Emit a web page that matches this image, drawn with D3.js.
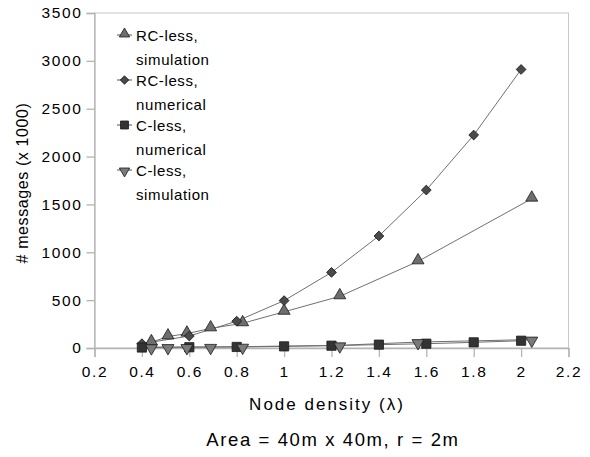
<!DOCTYPE html>
<html>
<head>
<meta charset="utf-8">
<script src="https://cdn.jsdelivr.net/npm/d3@7"></script>
<style>
  body { margin: 0; background: #fff; }
  svg text { font-family: "Liberation Sans", Arial, sans-serif; fill: #000; }
</style>
</head>
<body>
<div id="chart"></div>
<script>
/* ===== Data ===== */
const xTicks = [0.2, 0.4, 0.6, 0.8, 1, 1.2, 1.4, 1.6, 1.8, 2, 2.2];
const yTicks = [0, 500, 1000, 1500, 2000, 2500, 3000, 3500];

const rcSimX = [0.44, 0.51, 0.59, 0.69, 0.825, 1.0, 1.235, 1.565, 2.045];
const rcSimY = [60, 120, 150, 205, 258, 378, 540, 905, 1560];

const rcNumX = [0.4, 0.6, 0.8, 1.0, 1.2, 1.4, 1.6, 1.8, 2.0];
const rcNumY = [45, 125, 280, 495, 790, 1170, 1650, 2225, 2910];

const cNumX = [0.4, 0.6, 0.8, 1.0, 1.2, 1.4, 1.6, 1.8, 2.0];
const cNumY = [5, 8, 11, 17, 24, 35, 45, 59, 76];

const cSimX = [0.44, 0.51, 0.59, 0.69, 0.825, 1.235, 1.565, 2.045];
const cSimY = [8, 10, 10, 12, 14, 28, 62, 88];

const seriesNames = ["RC-less, simulation", "RC-less, numerical", "C-less, numerical", "C-less, simulation"];

/* ===== Layout ===== */
const width = 590, height = 457;
const margin = {top: 13, right: 21.5, bottom: 109, left: 94.5};

const svg = d3.select("#chart").append("svg")
              .attr("width", width)
              .attr("height", height);

const x = d3.scaleLinear()
            .domain([0.2, 2.2])
            .range([margin.left, width - margin.right]);

const y = d3.scaleLinear()
            .domain([0, 3500])
            .range([height - margin.bottom, margin.top]);

// plot frame: light grey top and right border
svg.append("rect")
   .attr("x", x(0.2)).attr("y", y(3500))
   .attr("width", x(2.2) - x(0.2)).attr("height", y(0) - y(3500))
   .attr("fill", "#fff")
   .attr("stroke", "#c8c8c8")
   .attr("stroke-width", 1);

// y axis
const yAxis = svg.append("g")
                 .attr("transform", `translate(${x(0.2)},0)`)
                 .call(d3.axisLeft(y).tickValues(yTicks).tickSize(8).tickPadding(4).tickFormat(d3.format("d")));
yAxis.selectAll("line, path").attr("stroke", "#b4b4b4").attr("stroke-width", 1.3);
yAxis.selectAll("text")
     .attr("font-size", 15.5)
     .attr("letter-spacing", 1.6)
     .attr("font-family", "Liberation Sans, Arial, sans-serif");

// x axis
const xAxis = svg.append("g")
                 .attr("transform", `translate(0,${y(0)})`)
                 .call(d3.axisBottom(x).tickValues(xTicks).tickSize(9).tickPadding(9).tickFormat(d => d3.format("")(d)));
xAxis.selectAll("line, path").attr("stroke", "#b4b4b4").attr("stroke-width", 1.3);
xAxis.selectAll("text")
     .attr("font-size", 15.5)
     .attr("letter-spacing", 1.6)
     .attr("font-family", "Liberation Sans, Arial, sans-serif");

// axis titles
svg.append("text")
   .attr("x", 327).attr("y", 410)
   .attr("text-anchor", "middle")
   .attr("font-size", 17)
   .attr("letter-spacing", 2)
   .text("Node density (λ)");

svg.append("text")
   .attr("x", 333).attr("y", 446)
   .attr("text-anchor", "middle")
   .attr("font-size", 18.5)
   .attr("letter-spacing", 1.6)
   .text("Area = 40m x 40m, r = 2m");

svg.append("text")
   .attr("transform", "translate(28,183) rotate(-90)")
   .attr("text-anchor", "middle")
   .attr("font-size", 16)
   .attr("letter-spacing", 0.6)
   .text("# messages (x 1000)");

/* ===== Series ===== */
// diamond = square turned 45 degrees
const series = [
  {xs: rcSimX, ys: rcSimY, shape: d3.symbolTriangle, size: 62, fill: "#6e6e6e", rot: 0, dy: -1},
  {xs: rcNumX, ys: rcNumY, shape: d3.symbolSquare, size: 48, fill: "#4a4a4a", rot: 45, dy: 0},
  {xs: cNumX, ys: cNumY, shape: d3.symbolSquare, size: 85, fill: "#333333", rot: 0, dy: 0},
  {xs: cSimX, ys: cSimY, shape: d3.symbolTriangle, size: 62, fill: "#7a7a7a", rot: 180, dy: 1}
];

const line = d3.line().x(d => x(d[0])).y(d => y(d[1]));

series.forEach(s => {
  const pts = s.xs.map((v, i) => [v, s.ys[i]]);
  svg.append("path")
     .datum(pts)
     .attr("fill", "none")
     .attr("stroke", "#707070")
     .attr("stroke-width", 1)
     .attr("d", line);
});

series.forEach(s => {
  const pts = s.xs.map((v, i) => [v, s.ys[i]]);
  svg.append("g").selectAll("path")
     .data(pts)
     .join("path")
     .attr("transform", d => `translate(${x(d[0])},${y(d[1]) + s.dy}) rotate(${s.rot})`)
     .attr("d", d3.symbol().type(s.shape).size(s.size))
     .attr("fill", s.fill)
     .attr("stroke", "#1a1a1a")
     .attr("stroke-width", 0.8);
});

/* ===== Legend ===== */
const legend = svg.append("g").attr("transform", "translate(117,35)");
series.forEach((s, i) => {
  const g = legend.append("g").attr("transform", `translate(0,${i * 45})`);
  g.append("line")
   .attr("x1", 0).attr("x2", 15).attr("y1", 0).attr("y2", 0)
   .attr("stroke", "#555").attr("stroke-width", 1);
  g.append("path")
   .attr("transform", `translate(7.5,${s.dy}) rotate(${s.rot})`)
   .attr("d", d3.symbol().type(s.shape).size(s.size * 0.75))
   .attr("fill", s.fill)
   .attr("stroke", "#1a1a1a")
   .attr("stroke-width", 0.8);
  const parts = seriesNames[i].split(" ");
  g.append("text")
   .attr("x", 19).attr("y", 5.5)
   .attr("font-size", 15)
   .attr("letter-spacing", 0.6)
   .text(parts[0]);
  g.append("text")
   .attr("x", 19).attr("y", 29.5)
   .attr("font-size", 15)
   .attr("letter-spacing", 0.6)
   .text(parts[1]);
});
</script>
</body>
</html>
